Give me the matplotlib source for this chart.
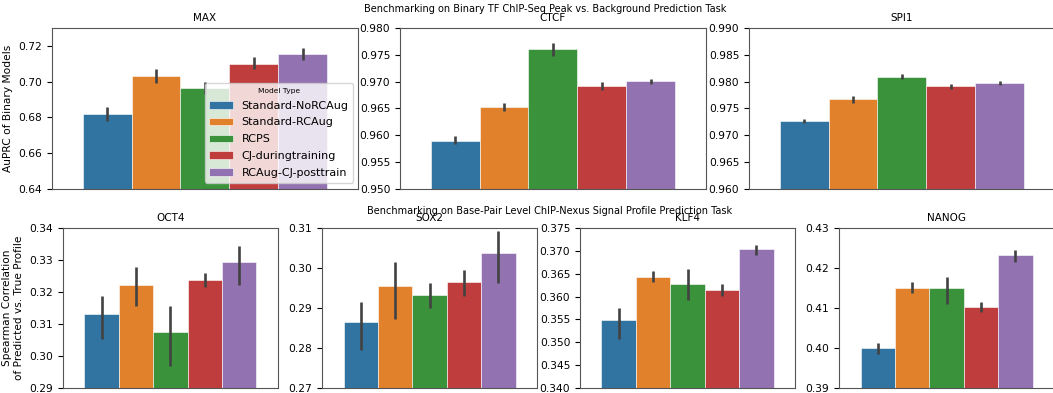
import matplotlib.pyplot as plt
from matplotlib.ticker import MultipleLocator, FormatStrFormatter

# model types (hue) and colours
modelTypes = ["Standard-NoRCAug", "Standard-RCAug", "RCPS", "CJ-duringtraining", "RCAug-CJ-posttrain"]
barColors = ["#3274a1", "#e1812c", "#3a923a", "#c03d3e", "#9372b2"]

# binary TF ChIP-seq task (AuPRC)
binaryTasks = ["MAX", "CTCF", "SPI1"]
maxMean = [0.682, 0.703, 0.6965, 0.710, 0.7155]
maxLow = [0.678, 0.699, 0.693, 0.707, 0.712]
maxHigh = [0.686, 0.707, 0.700, 0.714, 0.719]
ctcfMean = [0.9590, 0.9653, 0.9760, 0.9692, 0.9701]
ctcfLow = [0.9583, 0.9646, 0.9747, 0.9684, 0.9695]
ctcfHigh = [0.9598, 0.9660, 0.9772, 0.9700, 0.9705]
spi1Mean = [0.9727, 0.9767, 0.9809, 0.9791, 0.9797]
spi1Low = [0.9723, 0.9760, 0.9804, 0.9786, 0.9793]
spi1High = [0.9731, 0.9773, 0.9814, 0.9796, 0.9801]
binaryYLims = [(0.64, 0.73), (0.95, 0.98), (0.96, 0.99)]
binaryTickSteps = [0.02, 0.005, 0.005]
binaryTickFormats = ["%.2f", "%.3f", "%.3f"]

# ChIP-nexus profile task (spearman)
profileTasks = ["OCT4", "SOX2", "KLF4", "NANOG"]
oct4Mean = [0.3130, 0.3223, 0.3074, 0.3237, 0.3294]
oct4Low = [0.3053, 0.3155, 0.2970, 0.3215, 0.3222]
oct4High = [0.3187, 0.3277, 0.3155, 0.3260, 0.3345]
sox2Mean = [0.2864, 0.2954, 0.2932, 0.2965, 0.3038]
sox2Low = [0.2794, 0.2872, 0.2901, 0.2931, 0.2962]
sox2High = [0.2916, 0.3014, 0.2962, 0.2995, 0.3092]
klf4Mean = [0.3548, 0.3644, 0.3627, 0.3614, 0.3705]
klf4Low = [0.3508, 0.3631, 0.3592, 0.3602, 0.3691]
klf4High = [0.3576, 0.3655, 0.3660, 0.3627, 0.3714]
nanogMean = [0.4001, 0.4150, 0.4150, 0.4103, 0.4232]
nanogLow = [0.3986, 0.4137, 0.4110, 0.4089, 0.4214]
nanogHigh = [0.4013, 0.4166, 0.4177, 0.4116, 0.4246]
profileYLims = [(0.29, 0.34), (0.27, 0.31), (0.34, 0.375), (0.39, 0.43)]
profileTickSteps = [0.01, 0.01, 0.005, 0.01]
profileTickFormats = ["%.2f", "%.2f", "%.3f", "%.2f"]


def drawBars(ax, title, means, lows, highs, ylim, step, fmt):
    """Draws one seaborn-like hue barplot with a single x category"""
    width = 0.8 / len(modelTypes)
    for i, name in enumerate(modelTypes):
        xPos = -0.4 + width * (i + 0.5)
        ax.bar(xPos, means[i], width=width, color=barColors[i], label=name,
               edgecolor="white", linewidth=0.4)
        ax.vlines(xPos, lows[i], highs[i], color="#424242", linewidth=1.9, zorder=3)
    ax.set_xlim(-0.5, 0.5)
    ax.set_ylim(*ylim)
    ax.set_xticks([])
    ax.yaxis.set_major_locator(MultipleLocator(step))
    ax.yaxis.set_major_formatter(FormatStrFormatter(fmt))
    ax.set_title(title, fontsize=7.5, pad=5)
    ax.tick_params(axis="y", labelsize=7.7, length=3.5)
    for sp in ax.spines.values():
        sp.set_color("#555555")


fig = plt.figure(figsize=(10.53, 3.93), dpi=100)

binaryData = [(maxMean, maxLow, maxHigh), (ctcfMean, ctcfLow, ctcfHigh), (spi1Mean, spi1Low, spi1High)]
topLefts = [0.0494, 0.3799, 0.7113]
topAxes = []
for k, task in enumerate(binaryTasks):
    ax = fig.add_axes([topLefts[k], 0.519, 0.2904, 0.410])
    drawBars(ax, task, *binaryData[k], binaryYLims[k], binaryTickSteps[k], binaryTickFormats[k])
    topAxes.append(ax)
topAxes[0].set_ylabel("AuPRC of Binary Models", fontsize=7.7)
leg = topAxes[0].legend(title="Model Type", loc="lower right", bbox_to_anchor=(0.984, 0.04),
                        borderaxespad=0, fontsize=8, title_fontsize=5.4, handlelength=2.1,
                        framealpha=0.8, labelspacing=0.62)

profileData = [(oct4Mean, oct4Low, oct4High), (sox2Mean, sox2Low, sox2High),
               (klf4Mean, klf4Low, klf4High), (nanogMean, nanogLow, nanogHigh)]
bottomLefts = [0.0598, 0.3058, 0.5508, 0.7968]
bottomAxes = []
for k, task in enumerate(profileTasks):
    ax = fig.add_axes([bottomLefts[k], 0.0127, 0.2042, 0.407])
    drawBars(ax, task, *profileData[k], profileYLims[k], profileTickSteps[k], profileTickFormats[k])
    bottomAxes.append(ax)
bottomAxes[0].set_ylabel("Spearman Correlation\nof Predicted vs. True Profile", fontsize=7.6)

fig.text(0.5175, 1 - 9 / 393, "Benchmarking on Binary TF ChIP-Seq Peak vs. Background Prediction Task",
         ha="center", va="center", fontsize=7)
fig.text(0.5223, 1 - 211 / 393, "Benchmarking on Base-Pair Level ChIP-Nexus Signal Profile Prediction Task",
         ha="center", va="center", fontsize=7)

fig.savefig("out.png", dpi=100)
